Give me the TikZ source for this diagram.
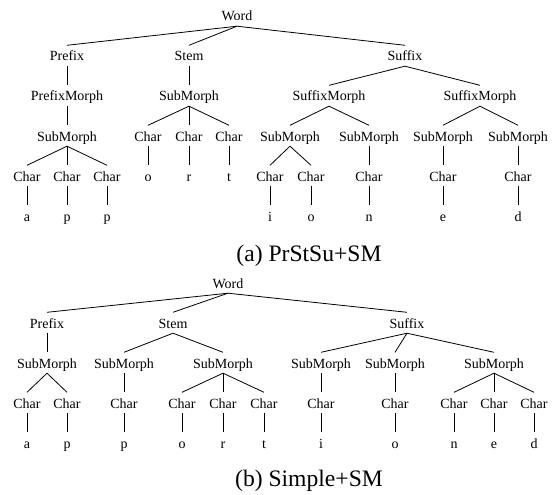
\documentclass[tikz,border=0pt]{standalone}
\usepackage{fontspec}
\setmainfont{Liberation Serif}
\begin{document}
\begin{tikzpicture}[x=1pt,y=-1pt,
  lbl/.style={anchor=base,font=\fontsize{14}{16}\selectfont,inner xsep=0pt,inner ysep=5pt,text height=10.5pt,text depth=0pt},
  captxt/.style={anchor=base,font=\fontsize{23.6}{26}\selectfont,inner sep=0pt},
  conn/.style={draw,line width=0.8pt}]
\useasboundingbox (0,0) rectangle (552,495);
% ---------- tree (a) ----------
\node[lbl] (aW) at (237,21) {Word};
\node[lbl] (aPre) at (67,61) {Prefix};
\node[lbl] (aSt) at (189,61) {Stem};
\node[lbl] (aSu) at (405,61) {Suffix};
\node[lbl] (aPM) at (67,101) {PrefixMorph};
\node[lbl] (aSM) at (189,101) {SubMorph};
\node[lbl] (aSF1) at (329,101) {SuffixMorph};
\node[lbl] (aSF2) at (480,101) {SuffixMorph};
\node[lbl] (aSMp) at (67,141) {SubMorph};
\node[lbl] (aCo) at (148,141) {Char};
\node[lbl] (aCr) at (189,141) {Char};
\node[lbl] (aCt) at (229,141) {Char};
\node[lbl] (aSa) at (290,141) {SubMorph};
\node[lbl] (aSb) at (369,141) {SubMorph};
\node[lbl] (aSc) at (443,141) {SubMorph};
\node[lbl] (aSd) at (518,141) {SubMorph};
\node[lbl] (aCa) at (27,181) {Char};
\node[lbl] (aCp1) at (67,181) {Char};
\node[lbl] (aCp2) at (107,181) {Char};
\node[lbl] (aLo) at (148,181) {o};
\node[lbl] (aLr) at (189,181) {r};
\node[lbl] (aLt) at (229,181) {t};
\node[lbl] (aCi) at (270,181) {Char};
\node[lbl] (aCo2) at (311,181) {Char};
\node[lbl] (aCn) at (369,181) {Char};
\node[lbl] (aCe) at (443,181) {Char};
\node[lbl] (aCd) at (518,181) {Char};
\node[lbl] (aLa) at (27,221) {a};
\node[lbl] (aLp1) at (67,221) {p};
\node[lbl] (aLp2) at (107,221) {p};
\node[lbl] (aLi) at (270,221) {i};
\node[lbl] (aLo2) at (311,221) {o};
\node[lbl] (aLn) at (369,221) {n};
\node[lbl] (aLe) at (443,221) {e};
\node[lbl] (aLd) at (518,221) {d};
\foreach \p/\c in {aW/aPre,aW/aSt,aW/aSu,aPre/aPM,aSt/aSM,aSu/aSF1,aSu/aSF2,
  aPM/aSMp,aSM/aCo,aSM/aCr,aSM/aCt,aSF1/aSa,aSF1/aSb,aSF2/aSc,aSF2/aSd,
  aSMp/aCa,aSMp/aCp1,aSMp/aCp2,aCo/aLo,aCr/aLr,aCt/aLt,aSa/aCi,aSa/aCo2,aSb/aCn,aSc/aCe,aSd/aCd,
  aCa/aLa,aCp1/aLp1,aCp2/aLp2,aCi/aLi,aCo2/aLo2,aCn/aLn,aCe/aLe,aCd/aLd}
  \draw[conn] (\p.south) -- (\c.north);
\node[captxt] (capa) at (309,261) {(a) PrStSu+SM};
% ---------- tree (b) ----------
\node[lbl] (bW) at (228,288) {Word};
\node[lbl] (bPre) at (47,328) {Prefix};
\node[lbl] (bSt) at (173,328) {Stem};
\node[lbl] (bSu) at (407,328) {Suffix};
\node[lbl] (bS1) at (47,368) {SubMorph};
\node[lbl] (bS2) at (124,368) {SubMorph};
\node[lbl] (bS3) at (223,368) {SubMorph};
\node[lbl] (bS4) at (321,368) {SubMorph};
\node[lbl] (bS5) at (395,368) {SubMorph};
\node[lbl] (bS6) at (494,368) {SubMorph};
\node[lbl] (bC1) at (27,408) {Char};
\node[lbl] (bC2) at (67,408) {Char};
\node[lbl] (bC3) at (124,408) {Char};
\node[lbl] (bC4) at (182,408) {Char};
\node[lbl] (bC5) at (223,408) {Char};
\node[lbl] (bC6) at (264,408) {Char};
\node[lbl] (bC7) at (321,408) {Char};
\node[lbl] (bC8) at (395,408) {Char};
\node[lbl] (bC9) at (454,408) {Char};
\node[lbl] (bC10) at (494,408) {Char};
\node[lbl] (bC11) at (534,408) {Char};
\node[lbl] (bL1) at (27,448) {a};
\node[lbl] (bL2) at (67,448) {p};
\node[lbl] (bL3) at (124,448) {p};
\node[lbl] (bL4) at (182,448) {o};
\node[lbl] (bL5) at (223,448) {r};
\node[lbl] (bL6) at (264,448) {t};
\node[lbl] (bL7) at (321,448) {i};
\node[lbl] (bL8) at (395,448) {o};
\node[lbl] (bL9) at (454,448) {n};
\node[lbl] (bL10) at (494,448) {e};
\node[lbl] (bL11) at (534,448) {d};
\foreach \p/\c in {bW/bPre,bW/bSt,bW/bSu,bPre/bS1,bSt/bS2,bSt/bS3,bSu/bS4,bSu/bS5,bSu/bS6,
  bS1/bC1,bS1/bC2,bS2/bC3,bS3/bC4,bS3/bC5,bS3/bC6,bS4/bC7,bS5/bC8,bS6/bC9,bS6/bC10,bS6/bC11}
  \draw[conn] (\p.south) -- (\c.north);
\foreach \i in {1,...,11}
  \draw[conn] (bC\i.south) -- (bL\i.north);
\node[captxt] (capb) at (309,486) {(b) Simple+SM};
\end{tikzpicture}
\end{document}
